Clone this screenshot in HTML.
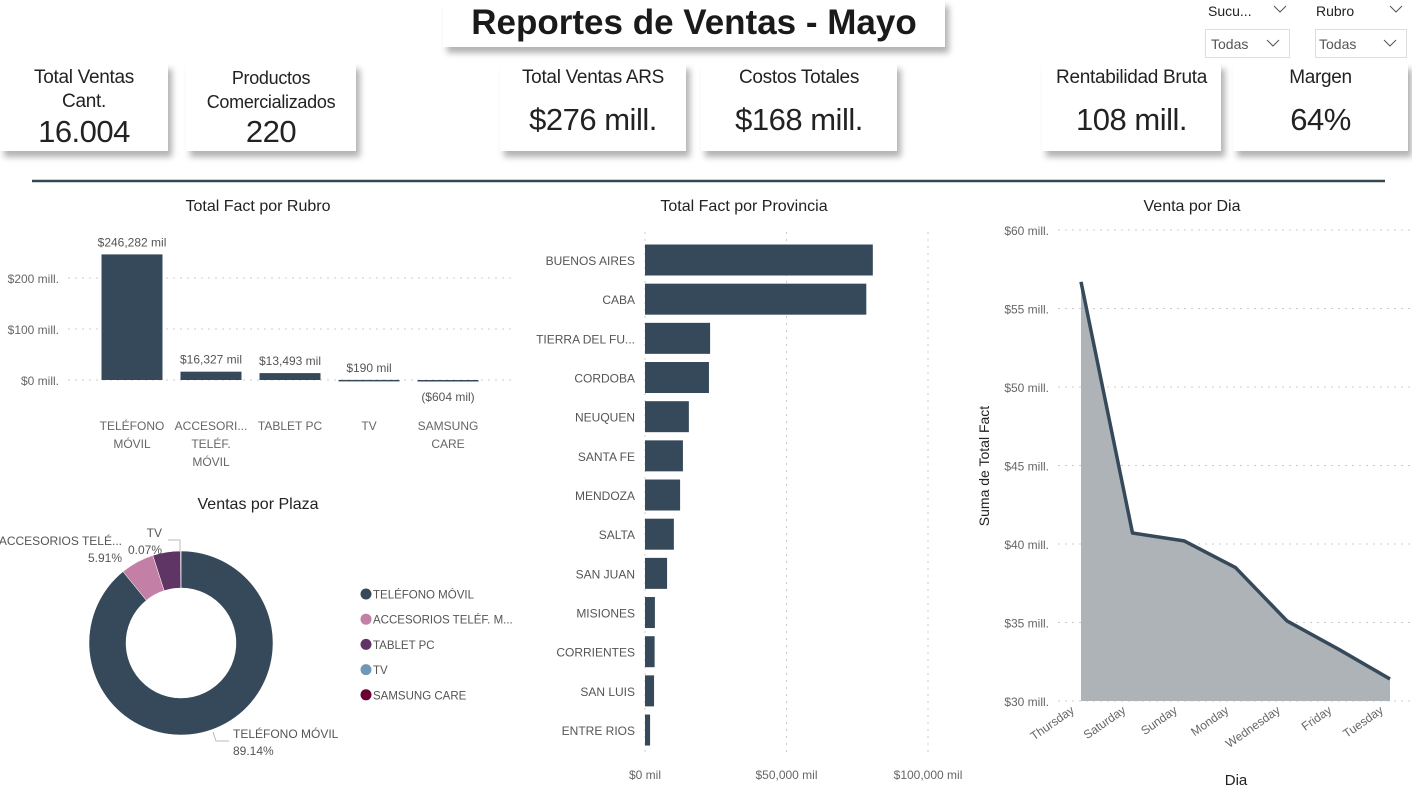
<!DOCTYPE html>
<html><head><meta charset="utf-8">
<style>
body{margin:0;background:#fff;width:1412px;height:792px;overflow:hidden;font-family:"Liberation Sans",sans-serif;}
.card{position:absolute;background:#fff;box-shadow:4px 6px 6px rgba(0,0,0,0.3);text-align:center;color:#222;}
.card .t{font-size:19px;line-height:24px;margin-top:3px;letter-spacing:-0.3px;}
.card .v{font-size:31px;line-height:36px;letter-spacing:-0.5px;}
svg text{font-family:"Liberation Sans",sans-serif;}
</style></head><body>
<div class="card" style="left:443px;top:0;width:502px;height:47px;font-weight:bold;font-size:35px;line-height:46px;color:#1a1a1a;">Reportes de Ventas - Mayo</div>
<div class="card" style="left:0;top:63px;width:168px;height:88px;"><div class="t">Total Ventas<br>Cant.</div><div class="v">16.004</div></div>
<div class="card" style="left:186px;top:63px;width:170px;height:88px;"><div class="t" style="font-size:18px">Productos<br>Comercializados</div><div class="v">220</div></div>
<div class="card" style="left:500px;top:63px;width:186px;height:88px;"><div class="t">Total Ventas ARS</div><div class="v" style="margin-top:12px">$276 mill.</div></div>
<div class="card" style="left:701px;top:63px;width:196px;height:88px;"><div class="t">Costos Totales</div><div class="v" style="margin-top:12px">$168 mill.</div></div>
<div class="card" style="left:1042px;top:63px;width:179px;height:88px;"><div class="t">Rentabilidad Bruta</div><div class="v" style="margin-top:12px">108 mill.</div></div>
<div class="card" style="left:1233px;top:63px;width:175px;height:88px;"><div class="t">Margen</div><div class="v" style="margin-top:12px">64%</div></div>

<svg width="1412" height="792" style="position:absolute;left:0;top:0" id="svg">
<g>
<text x="1208" y="16" font-size="14" fill="#222">Sucu...</text>
<polyline points="1274,6 1280,12 1286,6" fill="none" stroke="#555"/>
<rect x="1205.5" y="29.5" width="84" height="28" fill="#fff" stroke="#ddd"/>
<text x="1211" y="49" font-size="14" fill="#555">Todas</text>
<polyline points="1267,40 1273,46 1279,40" fill="none" stroke="#555"/>
</g>
<g>
<text x="1316" y="16" font-size="14" fill="#222">Rubro</text>
<polyline points="1390,6 1396,12 1402,6" fill="none" stroke="#555"/>
<rect x="1315.5" y="29.5" width="91" height="28" fill="#fff" stroke="#ddd"/>
<text x="1319" y="49" font-size="14" fill="#555">Todas</text>
<polyline points="1384,40 1390,46 1396,40" fill="none" stroke="#555"/>
</g>
<line x1="32" y1="181" x2="1385" y2="181" stroke="#37474f" stroke-width="2.5"/>
<text x="258" y="211" font-size="16" text-anchor="middle" fill="#222">Total Fact por Rubro</text>
<text x="744" y="211" font-size="16" text-anchor="middle" fill="#222">Total Fact por Provincia</text>
<text x="1192" y="211" font-size="16" text-anchor="middle" fill="#222">Venta por Dia</text>
<text x="258" y="509" font-size="16" text-anchor="middle" fill="#222">Ventas por Plaza</text>
<g id="g1"></g><g id="g2"></g><g id="g3"></g><g id="g4"></g>
</svg>
<script>
const NS="http://www.w3.org/2000/svg";
function mk(p,tag,a,txt){const e=document.createElementNS(NS,tag);for(const k in a)e.setAttribute(k,a[k]);if(txt!==undefined)e.textContent=txt;p.appendChild(e);return e;}

// Chart 1: Total Fact por Rubro (millions)
const rubroCats=[["TELÉFONO","MÓVIL"],["ACCESORI...","TELÉF.","MÓVIL"],["TABLET PC"],["TV"],["SAMSUNG","CARE"]];
const rubroVals=[246.282,16.327,13.493,0.19,-0.604];
const rubroLabels=["$246,282 mil","$16,327 mil","$13,493 mil","$190 mil","($604 mil)"];
const rubroTicks=[0,100,200];
const rubroTickLabels=["$0 mill.","$100 mill.","$200 mill."];
{
const g=document.getElementById('g1');
const y=v=>380-v*0.51, x=i=>132+i*79;
rubroTicks.forEach((t,i)=>{
 const l=mk(g,'line',{x1:68,y1:y(t),x2:512,y2:y(t),stroke:'#ccc','stroke-dasharray':'2,5'});
 
 const tx=mk(g,'text',{x:59,y:y(t)+5,'font-size':12,'text-anchor':'end',fill:'#666'},rubroTickLabels[i]);
 
});
rubroVals.forEach((v,i)=>{
 const top=Math.min(y(v),y(0)), h=Math.max(Math.abs(y(v)-y(0)),1.5);
 const r=mk(g,'rect',{x:x(i)-30.5,y:top,width:61,height:h,fill:'#35495a'});
 
 const ly=v>=0?top-8:y(0)+21;
 const t=mk(g,'text',{x:x(i),y:ly,'font-size':12,'text-anchor':'middle',fill:'#555'},rubroLabels[i]);
 
 rubroCats[i].forEach((s,j)=>{
  const c=mk(g,'text',{x:x(i),y:430+j*18,'font-size':12,'text-anchor':'middle',fill:'#666'},s);
  
 });
});
}

// Chart 2: Total Fact por Provincia (thousands)
const provCats=["BUENOS AIRES","CABA","TIERRA DEL FU...","CORDOBA","NEUQUEN","SANTA FE","MENDOZA","SALTA","SAN JUAN","MISIONES","CORRIENTES","SAN LUIS","ENTRE RIOS"];
const provVals=[80.5,78.2,23.0,22.6,15.5,13.4,12.4,10.2,7.8,3.5,3.4,3.2,1.8];
const provTicks=[0,50,100];
const provTickLabels=["$0 mil","$50,000 mil","$100,000 mil"];
{
const g=document.getElementById('g2');
const x=v=>645+v*2.83, y=i=>260+i*39.17;
provTicks.forEach((t,i)=>{
 const l=mk(g,'line',{x1:x(t),y1:232,x2:x(t),y2:752,stroke:'#ccc','stroke-dasharray':'2,5'});
 
 const tx=mk(g,'text',{x:x(t),y:779,'font-size':12,'text-anchor':'middle',fill:'#666'},provTickLabels[i]);
 
});
provVals.forEach((v,i)=>{
 const r=mk(g,'rect',{x:645,y:y(i)-15.5,width:x(v)-645,height:31,fill:'#35495a'});
 
 const t=mk(g,'text',{x:635,y:y(i)+5,'font-size':12,'text-anchor':'end',fill:'#555'},provCats[i]);
 
});
}

// Chart 3: Venta por Dia (millions)
const diaCats=["Thursday","Saturday","Sunday","Monday","Wednesday","Friday","Tuesday"];
const diaVals=[56.7,40.7,40.2,38.5,35.1,33.3,31.4];
const diaTicks=[30,35,40,45,50,55,60];
const diaTickLabels=["$30 mill.","$35 mill.","$40 mill.","$45 mill.","$50 mill.","$55 mill.","$60 mill."];
{
const g=document.getElementById('g3');
const y=v=>701-(v-30)*15.7, x=i=>1081+i*51.5;
diaTicks.forEach((t,i)=>{
 const l=mk(g,'line',{x1:1058,y1:y(t),x2:1410,y2:y(t),stroke:'#ccc','stroke-dasharray':'2,5'});
 
 const tx=mk(g,'text',{x:1049,y:y(t)+5,'font-size':12,'text-anchor':'end',fill:'#666'},diaTickLabels[i]);
 
});
let pts=diaVals.map((v,i)=>x(i)+','+y(v)).join(' ');
const a=mk(g,'polygon',{points:x(0)+','+y(30)+' '+pts+' '+x(diaVals.length-1)+','+y(30),fill:'#aeb3b8'});

const p=mk(g,'polyline',{points:pts,fill:'none',stroke:'#35495a','stroke-width':3.5,'stroke-linejoin':'round'});

diaCats.forEach((c,i)=>{
 const t=mk(g,'text',{x:x(i)-6,y:712,'font-size':12,'text-anchor':'end',fill:'#666',transform:`rotate(-35 ${x(i)-6} 712)`},c);
 
});
const xt=mk(g,'text',{x:1236,y:785,'font-size':15,'text-anchor':'middle',fill:'#222'},'Dia');

const yt=mk(g,'text',{x:989,y:466,'font-size':14,'text-anchor':'middle',fill:'#222',transform:'rotate(-90 989 466)'},'Suma de Total Fact');

}

// Chart 4: Ventas por Plaza (percent)
const plazaCats=["TELÉFONO MÓVIL","ACCESORIOS TELÉF. M...","TABLET PC","TV","SAMSUNG CARE"];
const plazaVals=[89.14,5.91,4.88,0.07,0.0];
const plazaColors=["#35495a","#c47fa7","#5e3564","#6f98b8","#6b0030"];
{
const g=document.getElementById('g4');
const cx=181,cy=643,R=92,r=55;
const tot=plazaVals.reduce((s,v)=>s+v,0);
let ang=0;
plazaVals.forEach((v,i)=>{
 if(v<=0)return;
 const a0=ang/tot*2*Math.PI, a1=(ang+v)/tot*2*Math.PI; ang+=v;
 const P=(rad,a)=>[cx+rad*Math.sin(a),cy-rad*Math.cos(a)];
 const lg=(a1-a0)>Math.PI?1:0;
 const [x0,y0]=P(R,a0),[x1,y1]=P(R,a1),[x2,y2]=P(r,a1),[x3,y3]=P(r,a0);
 const s=mk(g,'path',{d:`M${x0},${y0} A${R},${R} 0 ${lg} 1 ${x1},${y1} L${x2},${y2} A${r},${r} 0 ${lg} 0 ${x3},${y3} Z`,fill:plazaColors[i],stroke:'#fff','stroke-width':0.5});
 
});
const lbl=[[233,738,'start',"TELÉFONO MÓVIL",plazaVals[0]],[122,545,'end',"ACCESORIOS TELÉ...",plazaVals[1]],[162,537,'end',"TV",plazaVals[3]]];
mk(g,'polyline',{points:'213,732 216,741 229,741',fill:'none',stroke:'#bbb'});
mk(g,'polyline',{points:'168,540 180,540 180,552',fill:'none',stroke:'#bbb'});
lbl.forEach(l=>{
 const t=mk(g,'text',{x:l[0],y:l[1],'font-size':12,'text-anchor':l[2],fill:'#555'},l[3]);
 
 const t2=mk(g,'text',{x:l[0],y:l[1]+17,'font-size':12,'text-anchor':l[2],fill:'#555'},l[4].toFixed(2)+'%');
 
});
plazaCats.forEach((c,i)=>{
 const yy=594+i*25.2;
 const d=mk(g,'circle',{cx:366,cy:yy,r:5.5,fill:plazaColors[i]});
 
 const t=mk(g,'text',{x:373,y:yy+4.5,'font-size':11.5,fill:'#555'},c);
 
});
}
</script>
</body></html>
